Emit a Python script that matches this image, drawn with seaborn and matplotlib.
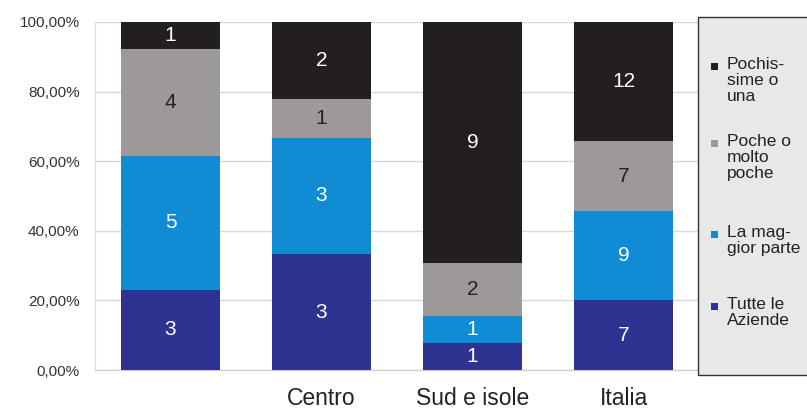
import matplotlib
matplotlib.use("Agg")
import matplotlib.pyplot as plt
from matplotlib.patches import Rectangle
from matplotlib.ticker import FuncFormatter, FixedLocator
import pandas as pd
import seaborn as sns

### data: number of companies per area and answer

areas = ["", "Centro", "Sud e isole", "Italia"]
tutte = [3, 3, 1, 7]
maggior_parte = [5, 3, 1, 9]
poche = [4, 1, 2, 7]
pochissime = [1, 2, 9, 12]

series = ["Tutte le Aziende", "La maggior parte", "Poche o molto poche", "Pochissime o una"]
legend_labels = ["Tutte le\nAziende", "La mag-\ngior parte", "Poche o\nmolto\npoche", "Pochis-\nsime o\nuna"]
colors = ["#2e3391", "#0f8cd4", "#9d9999", "#231f1f"]
text_colors = ["white", "white", "#222222", "white"]

df = pd.DataFrame({"Area": areas, series[0]: tutte, series[1]: maggior_parte,
                   series[2]: poche, series[3]: pochissime})
totals = df[series].sum(axis=1)
pct = df[series].div(totals, axis=0) * 100

### plot

sns.set_style("white")
plt.rcParams["font.family"] = ["Liberation Sans", "DejaVu Sans"]

fig = plt.figure(figsize=(8.07, 4.09), dpi=100)
ax = fig.add_axes([95 / 807, 1 - 370 / 409, 604 / 807, 348 / 409])

bottom = pd.Series([0.0] * len(areas))
for i, s in enumerate(series):
    sns.barplot(x=df["Area"], y=pct[s], bottom=bottom, color=colors[i],
                width=0.66, saturation=1, ax=ax, zorder=3, linewidth=0)
    for j in range(len(areas)):
        ax.text(j, bottom[j] + pct[s][j] / 2, str(df[s][j]), ha="center", va="center",
                fontsize=15, color=text_colors[i], zorder=4)
    bottom = bottom + pct[s]

ax.set_xlim(-0.5, 3.5)
ax.set_ylim(0, 100)
ax.set_xlabel("")
ax.set_ylabel("")
ax.yaxis.set_major_locator(FixedLocator([0, 20, 40, 60, 80, 100]))
ax.yaxis.set_major_formatter(FuncFormatter(lambda v, p: f"{v:.2f}%".replace(".", ",")))
ax.xaxis.set_minor_locator(FixedLocator([-0.5, 0.5, 1.5, 2.5, 3.5]))
ax.grid(axis="y", color="#d9d9d9", linewidth=1, zorder=0)
ax.tick_params(axis="y", length=10, color="#d9d9d9", labelsize=11, pad=1, labelcolor="#333333")
ax.tick_params(axis="x", which="major", length=0, labelsize=16.5, pad=12, labelcolor="#222222")
ax.tick_params(axis="x", which="minor", length=6, color="#d9d9d9", direction="out")
for side in ["top", "right"]:
    ax.spines[side].set_visible(False)
ax.spines["left"].set_color("#dddddd")
ax.spines["bottom"].set_color("#cccccc")

### legend box

fig.patches.append(Rectangle((698 / 807, 1 - 375 / 409), 110 / 807, 358 / 409,
                             transform=fig.transFigure, facecolor="#e8e8e8",
                             edgecolor="#333333", linewidth=1, zorder=0))
legend_top = [300, 228, 137, 60]
for i, lab in enumerate(legend_labels):
    ytop = 1 - legend_top[i] / 409
    fig.patches.append(Rectangle((711 / 807, ytop - 10 / 409), 7 / 807, 7 / 409,
                                 transform=fig.transFigure, facecolor=colors[i],
                                 edgecolor="none", zorder=2))
    fig.text(727 / 807, ytop + 3 / 409, lab, ha="left", va="top", fontsize=12.5,
             color="#222222", linespacing=1.08)

fig.savefig("out.png", dpi=100)
